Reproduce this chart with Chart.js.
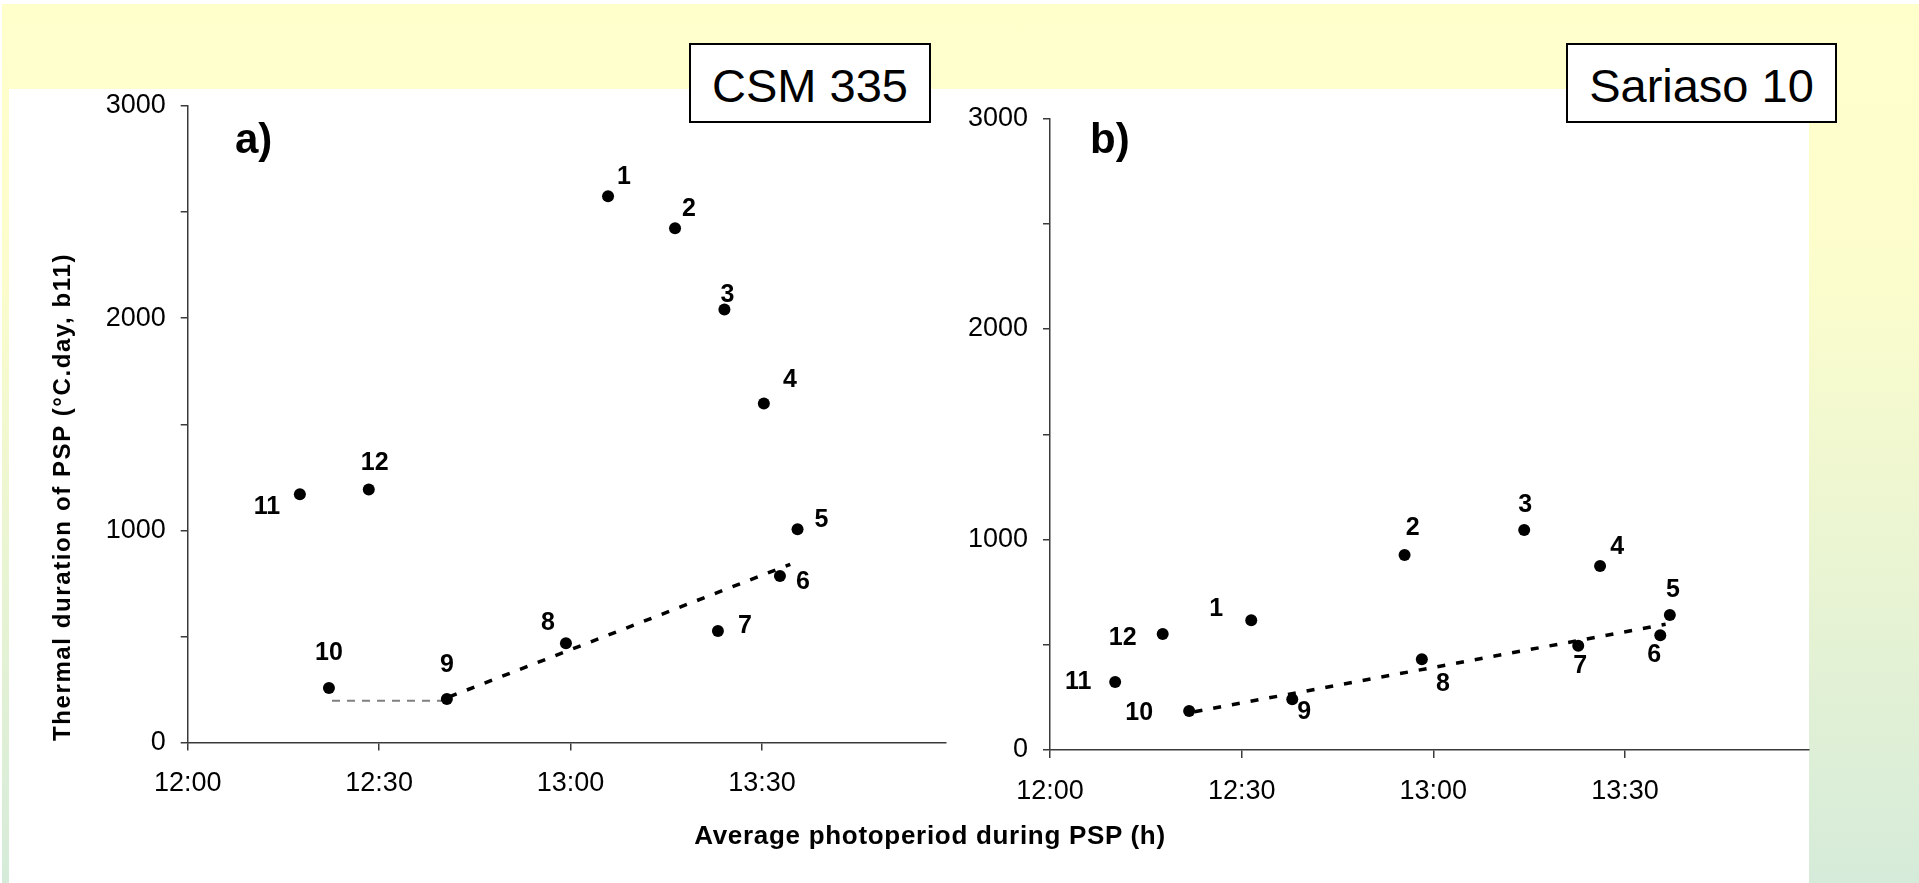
<!DOCTYPE html>
<html>
<head>
<meta charset="utf-8">
<title>Thermal duration of PSP vs photoperiod</title>
<script src="https://cdn.jsdelivr.net/npm/chart.js@4.4.1/dist/chart.umd.min.js"></script>
<style>
  html, body { margin: 0; padding: 0; }
  body {
    width: 1919px; height: 883px; position: relative; overflow: hidden;
    background: #fff; font-family: 'Liberation Sans', Arial, sans-serif; color: #000;
  }
  #frame {
    position: absolute; left: 2px; top: 4px; right: 0; bottom: 0;
    background: linear-gradient(to bottom, #ffffcc 0%, #fcfdcc 30%, #d5ebd9 100%);
  }
  #panel { position: absolute; left: 9px; top: 89px; width: 1800px; height: 794px; background: #fff; }
  canvas { position: absolute; top: 0; }
  #chartA { left: 0; }
  #chartB { left: 960px; }
  .variety {
    position: absolute; top: 43px; height: 80px; box-sizing: border-box;
    border: 2px solid #000; background: #fff; text-align: center;
    font-size: 47px; line-height: 70px; padding-top: 6px; z-index: 2;
  }
  .panel-tag { position: absolute; top: 118px; font-size: 42px; font-weight: bold; line-height: 42px; z-index: 2; }
  #xTitle {
    position: absolute; left: 930px; top: 822px; transform: translateX(-50%);
    font-size: 26px; line-height: 26px; font-weight: bold; letter-spacing: 0.7px; white-space: nowrap; z-index: 2;
  }
  #yTitle {
    position: absolute; left: 62px; top: 497px; transform: translate(-50%, -50%) rotate(-90deg);
    font-size: 24px; line-height: 24px; font-weight: bold; letter-spacing: 1.6px; white-space: nowrap; z-index: 2;
  }
</style>
</head>
<body>
<div id="frame"></div>
<div id="panel"></div>
<canvas id="chartA" width="960" height="883"></canvas>
<canvas id="chartB" width="959" height="883"></canvas>
<div class="variety" style="left:689px; width:242px;">CSM 335</div>
<div class="variety" style="left:1566px; width:271px;">Sariaso 10</div>
<div class="panel-tag" style="left:235px;">a)</div>
<div class="panel-tag" style="left:1090px;">b)</div>
<div id="yTitle">Thermal duration of PSP (°C.day, b11)</div>
<div id="xTitle">Average photoperiod during PSP (h)</div>

<script>
// sowing dates, numbered 1..12
const sowingNumbers = ['1', '2', '3', '4', '5', '6', '7', '8', '9', '10', '11', '12'];

// CSM 335: average photoperiod (decimal hours) and thermal duration (°C.day)
const csmPhotoperiod = [13.098, 13.273, 13.402, 13.505, 13.593, 13.547, 13.385, 12.988, 12.677, 12.369, 12.293, 12.473];
const csmThermal = [2575, 2424, 2041, 1598, 1005, 785, 525, 468, 205, 257, 1170, 1193];
const csmTrendX = [12.683, 13.574];
const csmTrendY = [215, 840];
const csmPlateauX = [12.377, 12.668];
const csmPlateauY = [197, 197];

// Sariaso 10
const sarPhotoperiod = [12.525, 12.925, 13.237, 13.435, 13.617, 13.592, 13.378, 12.970, 12.632, 12.363, 12.170, 12.294];
const sarThermal = [616, 926, 1045, 874, 641, 545, 495, 431, 241, 185, 323, 551];
const sarTrendX = [12.377, 13.606];
const sarTrendY = [182, 597];

// axis ticks
const xTickValues = [12, 12.5, 13, 13.5];
const xTickLabels = ['12:00', '12:30', '13:00', '13:30'];
const yTickValues = [0, 500, 1000, 1500, 2000, 2500, 3000];
const yTickLabels = ['0', '', '1000', '', '2000', '', '3000'];

// where each number sits relative to its dot
const csmLabelOffsets = [[16, -19], [14, -19], [3, -14], [26, -23], [24, -9], [23, 6], [27, -5], [-18, -20], [0, -34], [0, -35], [-33, 13], [6, -26]];
const sarLabelOffsets = [[-35, -11], [8, -27], [1, -25], [17, -19], [3, -25], [-6, 20], [2, 20], [21, 25], [12, 13], [-50, 2], [-37, 0], [-40, 4]];

const axisColor = '#3a3a3a';
const tickFont = { family: "'Liberation Sans', Arial, sans-serif", size: 27 };

function toXY(xs, ys) {
  return xs.map((x, i) => ({ x: x, y: ys[i] }));
}

function numberLabels(id, labels, offsets) {
  return {
    id: id,
    afterDatasetsDraw(chart) {
      const meta = chart.getDatasetMeta(0);
      const ctx = chart.ctx;
      ctx.save();
      ctx.font = "bold 25px 'Liberation Sans', Arial, sans-serif";
      ctx.fillStyle = '#000';
      ctx.textAlign = 'center';
      ctx.textBaseline = 'middle';
      meta.data.forEach((pt, i) => {
        ctx.fillText(labels[i], pt.x + offsets[i][0], pt.y + offsets[i][1]);
      });
      ctx.restore();
    }
  };
}

function buildScales(yWidth) {
  return {
    x: {
      type: 'linear',
      min: 12,
      max: 13.98,
      border: { display: true, color: axisColor, width: 1.5 },
      grid: { drawOnChartArea: false, drawTicks: true, tickLength: 8, color: axisColor, lineWidth: 1.5 },
      afterBuildTicks: s => { s.ticks = xTickValues.map(v => ({ value: v })); },
      ticks: {
        padding: 17, color: '#000', font: tickFont, maxRotation: 0, autoSkip: false,
        callback: (v, i) => xTickLabels[i]
      },
      afterFit: s => { s.height = 60; }
    },
    y: {
      type: 'linear',
      min: 0,
      max: 3000,
      border: { display: true, color: axisColor, width: 1.5 },
      grid: { drawOnChartArea: false, drawTicks: true, tickLength: 7, color: axisColor, lineWidth: 1.5 },
      afterBuildTicks: s => { s.ticks = yTickValues.map(v => ({ value: v })); },
      ticks: {
        padding: 15, color: '#000', font: tickFont, autoSkip: false,
        callback: (v, i) => yTickLabels[i]
      },
      afterFit: s => { s.width = yWidth; }
    }
  };
}

function dots(data) {
  return {
    data: data,
    backgroundColor: '#000',
    borderColor: '#000',
    borderWidth: 0,
    pointRadius: 6,
    pointHoverRadius: 6
  };
}

function dashed(data, color, width, dash) {
  return {
    data: data,
    showLine: true,
    borderColor: color,
    borderWidth: width,
    borderDash: dash,
    pointRadius: 0,
    pointHoverRadius: 0,
    fill: false
  };
}

const commonOptions = {
  responsive: false,
  animation: false,
  events: [],
  plugins: { legend: { display: false }, tooltip: { enabled: false } }
};

// a) CSM 335
new Chart(document.getElementById('chartA').getContext('2d'), {
  type: 'scatter',
  data: {
    datasets: [
      dots(toXY(csmPhotoperiod, csmThermal)),
      dashed(toXY(csmTrendX, csmTrendY), '#000', 3.5, [8, 11]),
      dashed(toXY(csmPlateauX, csmPlateauY), '#808080', 2, [8, 7])
    ]
  },
  options: Object.assign({}, commonOptions, {
    layout: { padding: { left: 87.7, top: 106, right: 14.3, bottom: 80.5 } },
    scales: buildScales(100)
  }),
  plugins: [numberLabels('csmNumbers', sowingNumbers, csmLabelOffsets)]
});

// b) Sariaso 10
new Chart(document.getElementById('chartB').getContext('2d'), {
  type: 'scatter',
  data: {
    datasets: [
      dots(toXY(sarPhotoperiod, sarThermal)),
      dashed(toXY(sarTrendX, sarTrendY), '#000', 3.5, [8, 11])
    ]
  },
  options: Object.assign({}, commonOptions, {
    layout: { padding: { left: 0, top: 118.5, right: 110, bottom: 73 } },
    scales: buildScales(90)
  }),
  plugins: [numberLabels('sarNumbers', sowingNumbers, sarLabelOffsets)]
});
</script>
</body>
</html>
